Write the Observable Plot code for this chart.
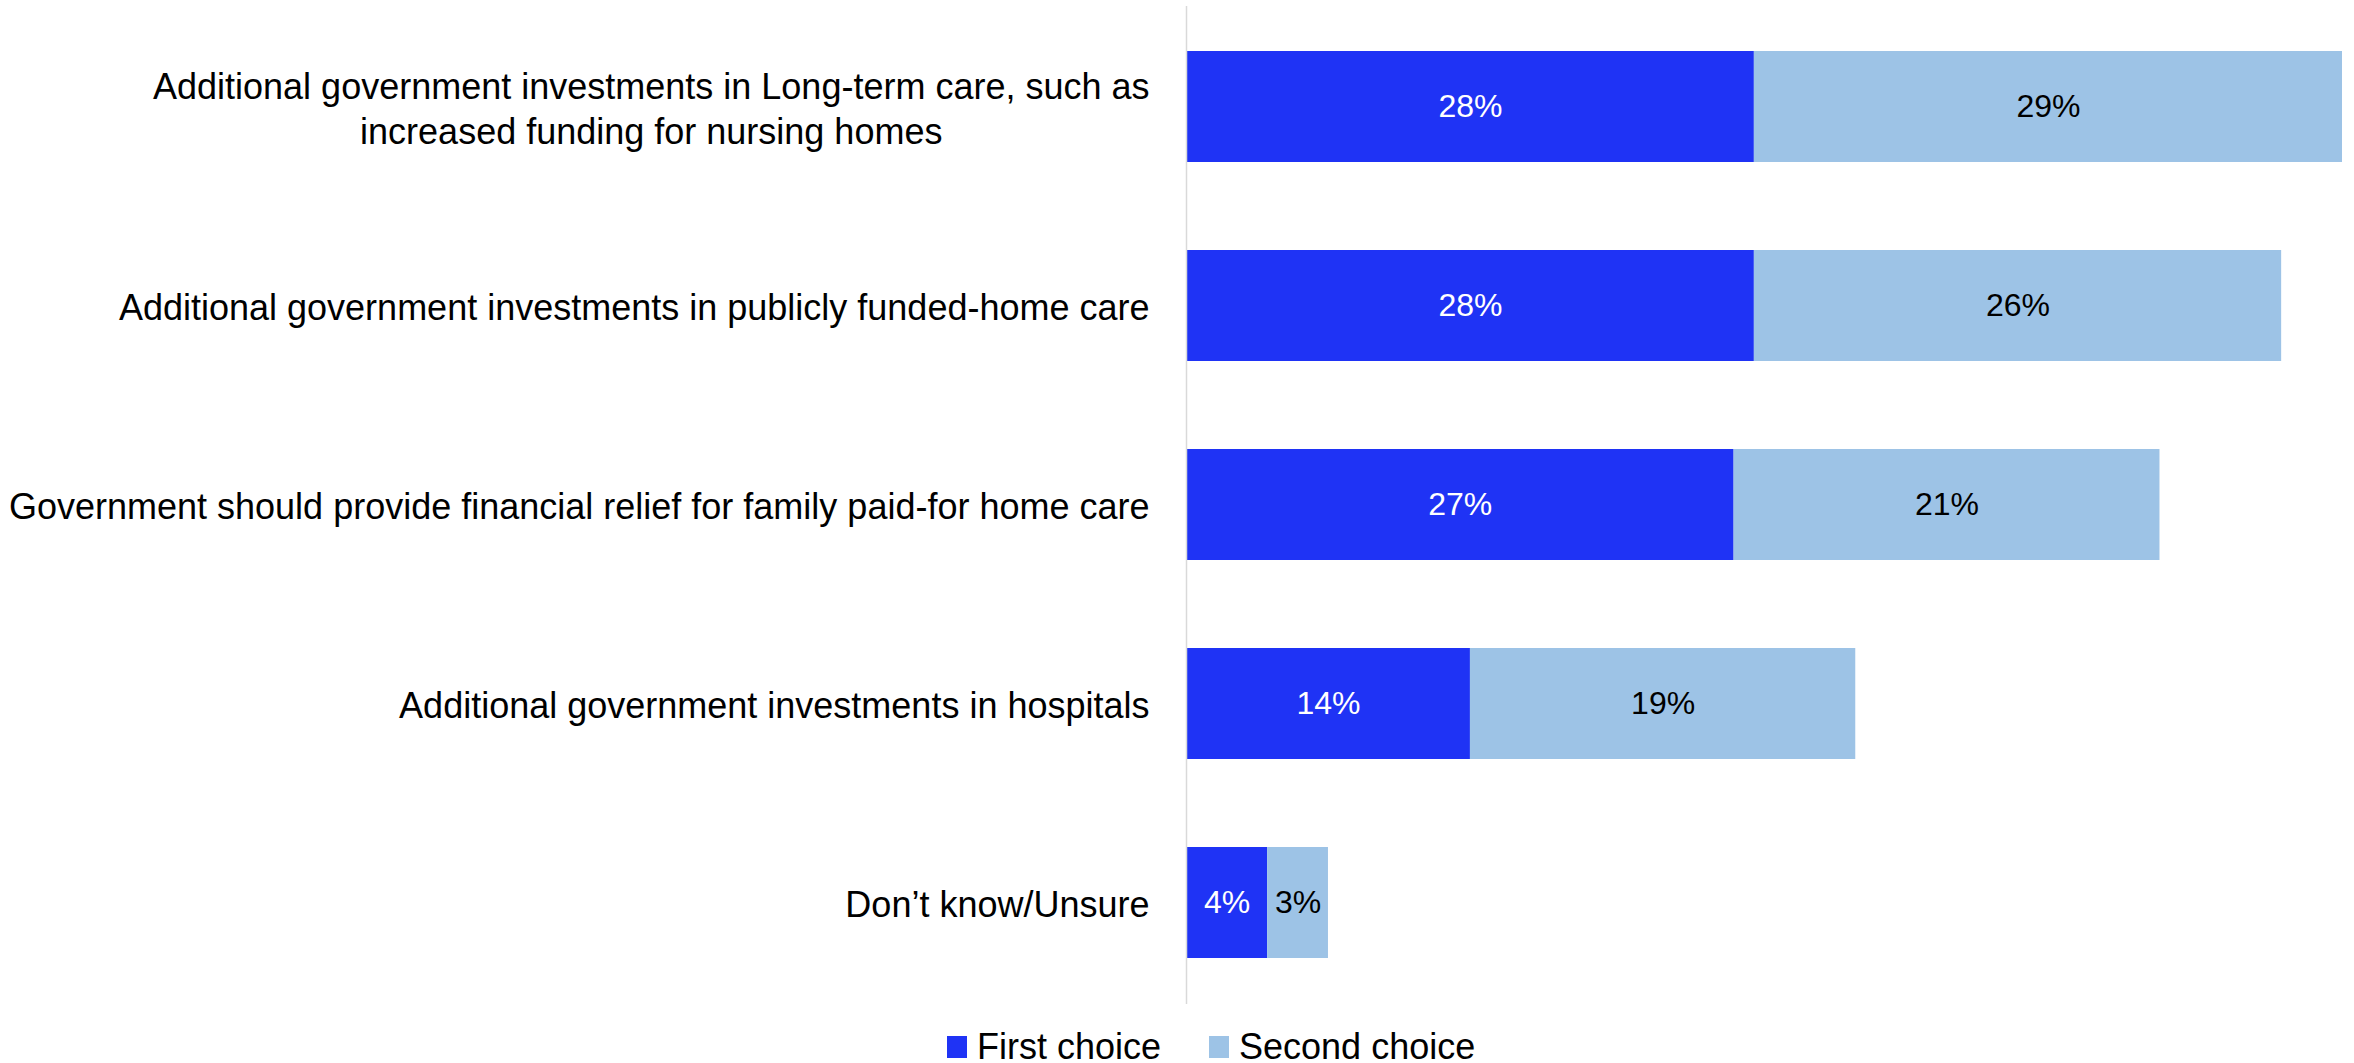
<!DOCTYPE html>
<html>
<head>
<meta charset="utf-8">
<script src="https://cdn.jsdelivr.net/npm/d3@7"></script>
<script src="https://cdn.jsdelivr.net/npm/@observablehq/plot@0.6"></script>
<style>
  html, body { margin: 0; padding: 0; background: #fff; }
  #chart svg { display: block; }
  #legend { display: flex; align-items: center; margin-top: 17px; padding-left: 947px;
            font-family: "Liberation Sans", Arial, Helvetica, sans-serif; font-size: 36px; line-height: 40px; color: #000; }
  .item { display: flex; align-items: center; margin-right: 48px; }
  .sw { width: 20px; height: 22px; margin-right: 10px; }
</style>
</head>
<body>
<div id="chart"></div>
<div id="legend"></div>
<script>
const categories = [
  "Additional government investments in Long-term care, such as\nincreased funding for nursing homes",
  "Additional government investments in publicly funded-home care",
  "Government should provide financial relief for family paid-for home care",
  "Additional government investments in hospitals",
  "Don\u2019t know/Unsure"
];
const seriesNames = ["First choice", "Second choice"];
const firstChoice = [28, 28, 27, 14, 4];
const secondChoice = [29, 26, 21, 19, 3];
const seriesColors = ["#1F33F5", "#9DC3E6"];
const labelColors = ["#ffffff", "#000000"];

const FONT = '"Liberation Sans", Arial, Helvetica, sans-serif';

const data = [];
categories.forEach((c, i) => {
  data.push({category: c, series: seriesNames[0], value: firstChoice[i]});
  data.push({category: c, series: seriesNames[1], value: secondChoice[i]});
});

const maxTotal = d3.max(categories, (c, i) => firstChoice[i] + secondChoice[i]);

// measure label widths to center multi-line labels in a right-aligned block
const ctx = document.createElement("canvas").getContext("2d");
ctx.font = `36px ${FONT}`;
function blockWidth(s) { return d3.max(s.split("\n"), l => ctx.measureText(l).width); }

const gap = 37;
const labelMarks = categories.map(c => Plot.text([c], {
  y: d => d,
  frameAnchor: "left",
  text: d => d,
  textAnchor: "middle",
  lineHeight: 1.25,
  dx: -(gap + blockWidth(c) / 2),
  fill: "#000",
  fontSize: 36
}));

const valueMarks = seriesNames.map((s, k) => Plot.text(data, Plot.filter(d => d.series === s, Plot.stackX({
  x: "value", y: "category", z: "series",
  order: seriesNames,
  text: d => d.value + "%",
  fill: labelColors[k],
  fontSize: 32
}))));

const chart = Plot.plot({
  width: 2354,
  height: 1010,
  marginLeft: 1186,
  marginRight: 12,
  marginTop: 6,
  marginBottom: 6,
  style: {fontFamily: FONT, background: "#fff"},
  x: {domain: [0, maxTotal], axis: null},
  y: {domain: categories, paddingInner: 0.44, paddingOuter: 0.22, axis: null},
  color: {domain: seriesNames, range: seriesColors},
  marks: [
    Plot.barX(data, Plot.stackX({x: "value", y: "category", fill: "series", order: seriesNames})),
    Plot.ruleX([0], {stroke: "#d9d9d9", strokeWidth: 1.5}),
    ...valueMarks,
    ...labelMarks
  ]
});
document.getElementById("chart").appendChild(chart);

const legend = d3.select("#legend");
seriesNames.forEach((s, i) => {
  const it = legend.append("div").attr("class", "item");
  it.append("div").attr("class", "sw").style("background", seriesColors[i]);
  it.append("span").text(s);
});
</script>
</body>
</html>
